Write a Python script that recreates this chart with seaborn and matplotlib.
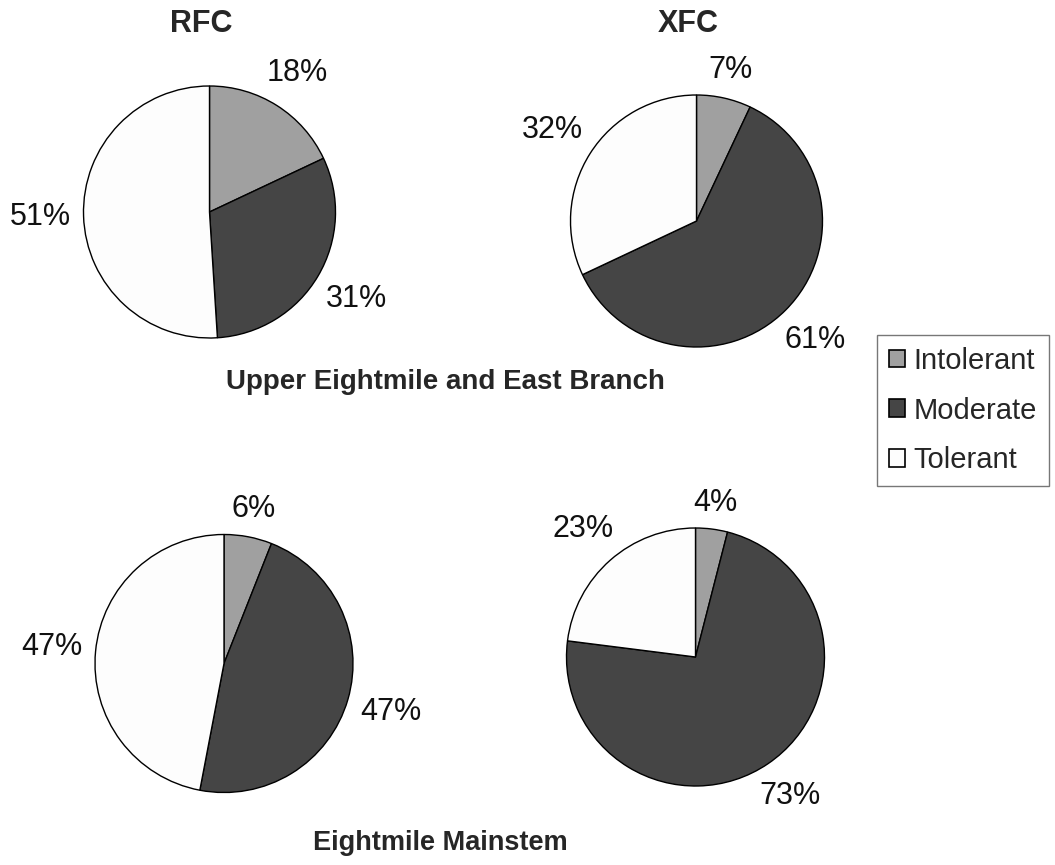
import numpy as np
import seaborn as sns
from matplotlib import pyplot as plt
from matplotlib.patches import Patch

sns.set_theme(style="white")
plt.rcParams["font.family"] = ["Liberation Sans", "DejaVu Sans"]

# Fish tolerance classes, percent of individuals
categories = ["Intolerant", "Moderate", "Tolerant"]
colors = ["#a0a0a0", "#454545", "#fdfdfd"]

upper_rfc = [18, 31, 51]
upper_xfc = [7, 61, 32]
main_rfc = [6, 47, 47]
main_xfc = [4, 73, 23]

column_titles = ["RFC", "XFC"]
row_titles = ["Upper Eightmile and East Branch", "Eightmile Mainstem"]

W, H = 1055, 865
fig = plt.figure(figsize=(W / 100, H / 100), dpi=100)
renderer = fig.canvas.get_renderer()


def pie_axes(cx, cy, r):
    # axes centred on (cx, cy) in pixels, pie radius r pixels
    half = r * 1.6
    ax = fig.add_axes([(cx - half) / W, 1 - (cy + half) / H, 2 * half / W, 2 * half / H])
    ax.set_aspect("equal")
    ax.axis("off")
    return ax


panels = [
    (upper_rfc, 209.5, 212, 126),
    (upper_xfc, 696.5, 221, 126),
    (main_rfc, 224, 663.5, 129),
    (main_xfc, 695.5, 657, 129),
]

gap = 12  # pixels between pie edge and label box

for values, cx, cy, r in panels:
    ax = pie_axes(cx, cy, r)
    wedges, texts = ax.pie(values, colors=colors, startangle=90, counterclock=False,
                           wedgeprops=dict(edgecolor="black", linewidth=1.0))
    ax.set_xlim(-1.6, 1.6)
    ax.set_ylim(-1.6, 1.6)
    # labels placed outside the edge, like spreadsheet "outside end" labels
    for w, v in zip(wedges, values):
        theta = np.deg2rad((w.theta1 + w.theta2) / 2)
        t = ax.text(0, 0, f"{v}%", ha="center", va="center", fontsize=22,
                    color="#111111")
        bb = t.get_window_extent(renderer)
        hw, hh = bb.width / 2, bb.height / 2 * 0.8
        d = r + gap + abs(np.cos(theta)) * hw + abs(np.sin(theta)) * hh
        t.set_position((d / r * np.cos(theta), d / r * np.sin(theta)))

fig.text(201 / W, 1 - 24 / H, column_titles[0], ha="center", va="center",
         fontsize=22, fontweight="bold")
fig.text(688 / W, 1 - 24 / H, column_titles[1], ha="center", va="center",
         fontsize=22, fontweight="bold")
fig.text(445 / W, 1 - 382 / H, row_titles[0], ha="center", va="center",
         fontsize=20, fontweight="bold")
fig.text(440 / W, 1 - 843 / H, row_titles[1], ha="center", va="center",
         fontsize=19.5, fontweight="bold")

handles = [Patch(facecolor=c, edgecolor="black", linewidth=1.2) for c in colors]
leg = fig.legend(handles, categories, loc="upper left",
                 bbox_to_anchor=(877 / W, 1 - 335 / H),
                 fontsize=21, handlelength=0.55, handleheight=0.55,
                 handletextpad=0.3, labelspacing=0.75, borderpad=0.4,
                 fancybox=False, frameon=True, borderaxespad=0)
leg.get_frame().set_edgecolor("#555555")
leg.get_frame().set_linewidth(1.0)

fig.savefig("out.png", dpi=100, facecolor="white")
